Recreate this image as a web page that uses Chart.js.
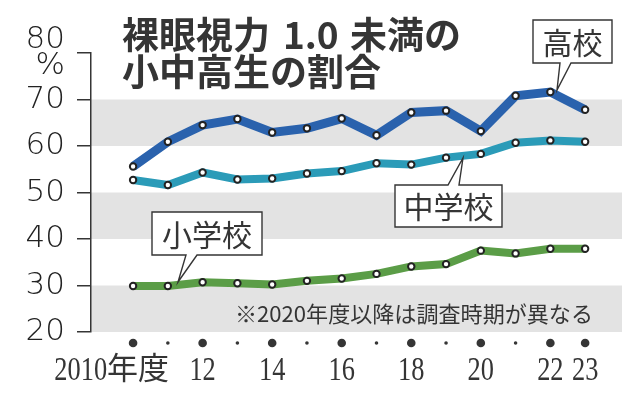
<!DOCTYPE html>
<html lang="ja">
<head>
<meta charset="utf-8">
<script src="https://cdn.jsdelivr.net/npm/chart.js@4"></script>
<style>
  html, body { margin: 0; padding: 0; background: #fff; }
</style>
</head>
<body>
<canvas id="visionChart" width="640" height="399"></canvas>
<script>
// 年度
const years = [2010, 2011, 2012, 2013, 2014, 2015, 2016, 2017, 2018, 2019, 2020, 2021, 2022, 2023];

// 裸眼視力1.0未満の割合 (%)
const highSchool = [55.6, 60.9, 64.5, 65.8, 62.9, 63.8, 65.9, 62.3, 67.2, 67.6, 63.2, 70.8, 71.6, 67.8];
const middleSchool = [52.7, 51.6, 54.3, 52.8, 53.0, 54.1, 54.6, 56.3, 56.0, 57.5, 58.3, 60.7, 61.2, 60.9];
const elementary = [29.9, 29.9, 30.7, 30.5, 30.2, 31.0, 31.5, 32.5, 34.1, 34.6, 37.5, 36.9, 37.9, 37.9];

// tick labels
const xTickYears = [2010, 2012, 2014, 2016, 2018, 2020, 2022, 2023];
const xTickLabels = ['2010年度', '12', '14', '16', '18', '20', '22', '23'];
const yTicks = [20, 30, 40, 50, 60, 70, 80];
const yBands = [[20, 30], [40, 50], [60, 70]];

const ink = '#353535';
const cjk = '"Noto Sans CJK JP", "Noto Sans", sans-serif';

function toPoints(values) {
  return values.map((v, i) => ({ x: years[i], y: v }));
}

function lineSet(label, values, color, width) {
  return {
    label: label,
    data: toPoints(values),
    borderColor: color,
    borderWidth: width,
    borderJoinStyle: 'miter',
    tension: 0,
    pointRadius: 3.2,
    pointBorderWidth: 2,
    pointBorderColor: '#222',
    pointBackgroundColor: '#fff'
  };
}

// draw text squeezed/stretched to a given width
function fitText(ctx, text, x, y, width) {
  const w = ctx.measureText(text).width;
  ctx.save();
  ctx.translate(x, y);
  ctx.scale(width / w, 1);
  ctx.fillText(text, 0, 0);
  ctx.restore();
}

function callout(ctx, box, base, tip, text, top) {
  const [l, t, r, b] = box;
  ctx.beginPath();
  if (top) {
    ctx.moveTo(l, t);
    ctx.lineTo(base[0], t);
    ctx.lineTo(tip[0], tip[1]);
    ctx.lineTo(base[1], t);
    ctx.lineTo(r, t);
    ctx.lineTo(r, b);
    ctx.lineTo(l, b);
  } else {
    ctx.moveTo(l, t);
    ctx.lineTo(r, t);
    ctx.lineTo(r, b);
    ctx.lineTo(base[1], b);
    ctx.lineTo(tip[0], tip[1]);
    ctx.lineTo(base[0], b);
    ctx.lineTo(l, b);
  }
  ctx.closePath();
  ctx.fillStyle = '#fff';
  ctx.fill();
  ctx.lineWidth = 1.4;
  ctx.strokeStyle = ink;
  ctx.stroke();
  ctx.fillStyle = ink;
  ctx.font = '30px ' + cjk;
  ctx.textAlign = 'center';
  ctx.textBaseline = 'middle';
  ctx.fillText(text, (l + r) / 2, (t + b) / 2 + 1);
}

const bandsPlugin = {
  id: 'bands',
  beforeDraw(chart) {
    const { ctx, chartArea, scales } = chart;
    ctx.save();
    ctx.fillStyle = '#e3e3e3';
    yBands.forEach(([lo, hi]) => {
      const y1 = scales.y.getPixelForValue(hi);
      const y2 = scales.y.getPixelForValue(lo);
      ctx.fillRect(chartArea.left, y1, chartArea.right - chartArea.left, y2 - y1);
    });
    ctx.restore();
  }
};

const decorPlugin = {
  id: 'decor',
  afterDraw(chart) {
    const { ctx, scales } = chart;
    const xs = scales.x;
    ctx.save();

    // title
    ctx.fillStyle = ink;
    ctx.textBaseline = 'middle';
    ctx.textAlign = 'left';
    ctx.font = 'bold 37px ' + cjk;
    ctx.fillText('裸眼視力', 122, 35);
    ctx.fillText('1.0', 283, 35);
    ctx.fillText('未満の', 350, 35);
    ctx.fillText('小中高生の割合', 122, 72);

    // note
    ctx.font = '22px ' + cjk;
    fitText(ctx, '※2020年度以降は調査時期が異なる', 235, 314, 358);

    // year dots
    ctx.fillStyle = ink;
    years.forEach(yr => {
      const big = xTickYears.includes(yr);
      ctx.beginPath();
      ctx.arc(xs.getPixelForValue(yr), 343, big ? 4.3 : 1.8, 0, Math.PI * 2);
      ctx.fill();
    });

    // year labels
    ctx.textBaseline = 'alphabetic';
    xTickLabels.forEach((lab, i) => {
      const px = xs.getPixelForValue(xTickYears[i]);
      const num = lab.replace(/[^0-9]/g, '');
      ctx.font = '33px "Liberation Serif", "DejaVu Serif", serif';
      const w = ctx.measureText(num).width * 0.8;
      if (lab.length > num.length) {
        fitText(ctx, num, px - 26 - w, 380, w);
        ctx.font = '31px ' + cjk;
        ctx.fillText(lab.slice(num.length), px - 26, 379);
      } else {
        fitText(ctx, num, px - w / 2, 380, w);
      }
    });

    // callouts
    callout(ctx, [533, 20, 612, 63], [560, 571], [557, 90], '高校', false);
    callout(ctx, [395, 185, 502, 227], [448, 459], [463, 158], '中学校', true);
    callout(ctx, [152, 212, 262, 255], [186, 197], [178, 282], '小学校', false);

    ctx.restore();
  }
};

const ctx = document.getElementById('visionChart').getContext('2d');

new Chart(ctx, {
  type: 'line',
  data: {
    datasets: [
      lineSet('小学校', elementary, '#5b9d47', 8),
      lineSet('中学校', middleSchool, '#2b9bb8', 8),
      lineSet('高校', highSchool, '#2a62ad', 9)
    ]
  },
  options: {
    responsive: false,
    animation: false,
    layout: {
      padding: { top: 53, right: 18, bottom: 67, left: 0 }
    },
    plugins: {
      legend: { display: false },
      title: { display: false },
      tooltip: { enabled: false }
    },
    scales: {
      x: {
        type: 'linear',
        display: false,
        min: 2008.79,
        max: 2024.06
      },
      y: {
        min: 20,
        max: 80,
        afterFit(scale) { scale.width = 91; },
        afterBuildTicks(scale) { scale.ticks = yTicks.map(v => ({ value: v })); },
        grid: {
          drawOnChartArea: false,
          tickLength: 14,
          color: ink,
          lineWidth: 1.5
        },
        border: { display: true, color: ink, width: 1.5 },
        ticks: {
          autoSkip: false,
          padding: 12,
          color: '#222',
          font: { family: '"DejaVu Sans", sans-serif', size: 31, weight: '200', lineHeight: 0.82 },
          callback: v => (v === 80 ? ['80', '%'] : String(v))
        }
      }
    }
  },
  plugins: [bandsPlugin, decorPlugin]
});
</script>
</body>
</html>
